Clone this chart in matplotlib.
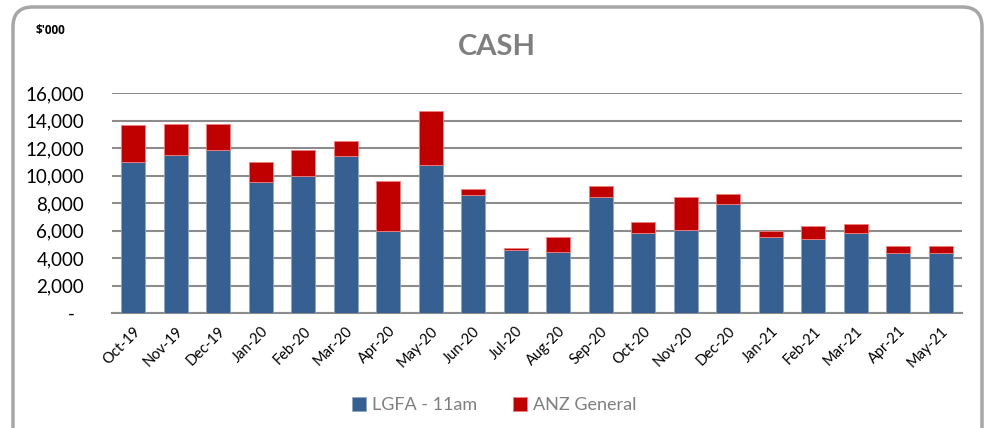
import matplotlib.pyplot as plt
from matplotlib.patches import FancyBboxPatch
import numpy as np

# months along the x axis
months = ['Oct-19', 'Nov-19', 'Dec-19', 'Jan-20', 'Feb-20', 'Mar-20', 'Apr-20',
          'May-20', 'Jun-20', 'Jul-20', 'Aug-20', 'Sep-20', 'Oct-20', 'Nov-20',
          'Dec-20', 'Jan-21', 'Feb-21', 'Mar-21', 'Apr-21', 'May-21']
# $'000
lgfa = [10980, 11510, 11880, 9530, 9960, 11390, 5990, 10760, 8580, 4600,
        4460, 8460, 5820, 6060, 7930, 5550, 5380, 5820, 4360, 4360]
anz = [2660, 2260, 1890, 1470, 1920, 1140, 3610, 3930, 440, 130,
       1090, 780, 800, 2380, 720, 435, 950, 630, 490, 490]

plt.rcParams['font.family'] = ['Lato', 'DejaVu Sans']

fig = plt.figure(figsize=(9.88, 4.28), dpi=100)
ax = fig.add_axes([112/988, 1-313/428, 850/988, 220/428])

x = np.arange(len(months))
ax.bar(x, lgfa, width=0.57, color='#376092', edgecolor='#8EA6C4', linewidth=0.6,
       label='LGFA - 11am', zorder=3)
ax.bar(x, anz, width=0.57, bottom=lgfa, color='#C00000', edgecolor='#F08080',
       linewidth=0.6, label='ANZ General', zorder=3)

ax.set_xlim(-0.5, len(months) - 0.5)
ax.set_ylim(0, 16000)
ax.set_yticks(range(0, 16001, 2000))
ax.set_yticklabels(['-  '] + ['{:,}'.format(v) for v in range(2000, 16001, 2000)],
                   fontsize=13.5)
ax.yaxis.grid(True, color='#8C8C8C', linewidth=1.5, zorder=0)
ax.set_xticks(x)
ax.set_xticklabels(months, rotation=45, ha='right', rotation_mode='anchor',
                   fontsize=10.5)
ax.tick_params(axis='y', length=0, pad=20)
ax.tick_params(axis='x', length=0, pad=8)
for s in ['top', 'right', 'left']:
    ax.spines[s].set_visible(False)
ax.spines['bottom'].set_color('#8C8C8C')
ax.spines['bottom'].set_linewidth(1.5)

fig.text(0.503, 1-47/428, 'CASH', ha='center', va='center', fontsize=21,
         fontweight='bold', color='#7F7F7F')
fig.text(36/988, 1-31/428, "$'000", ha='left', va='center', fontsize=8.5,
         fontweight='bold', color='black', family=['Open Sans', 'DejaVu Sans'])

leg = fig.legend(loc='center', bbox_to_anchor=(0.5, 1-405/428), ncol=2, frameon=False,
                 fontsize=13, handlelength=0.8, handleheight=0.8,
                 handletextpad=0.3, columnspacing=2.0)
for t in leg.get_texts():
    t.set_color('#7F7F7F')

# rounded border of the chart area
border = FancyBboxPatch((13/988, -0.05), 969/988, 1.05 - 7/428,
                        boxstyle='round,pad=0,rounding_size=0.02',
                        transform=fig.transFigure, fill=False,
                        edgecolor='#A6A6A6', linewidth=2.5, mutation_aspect=988/428)
fig.patches.append(border)

fig.savefig('out.png', dpi=100)
